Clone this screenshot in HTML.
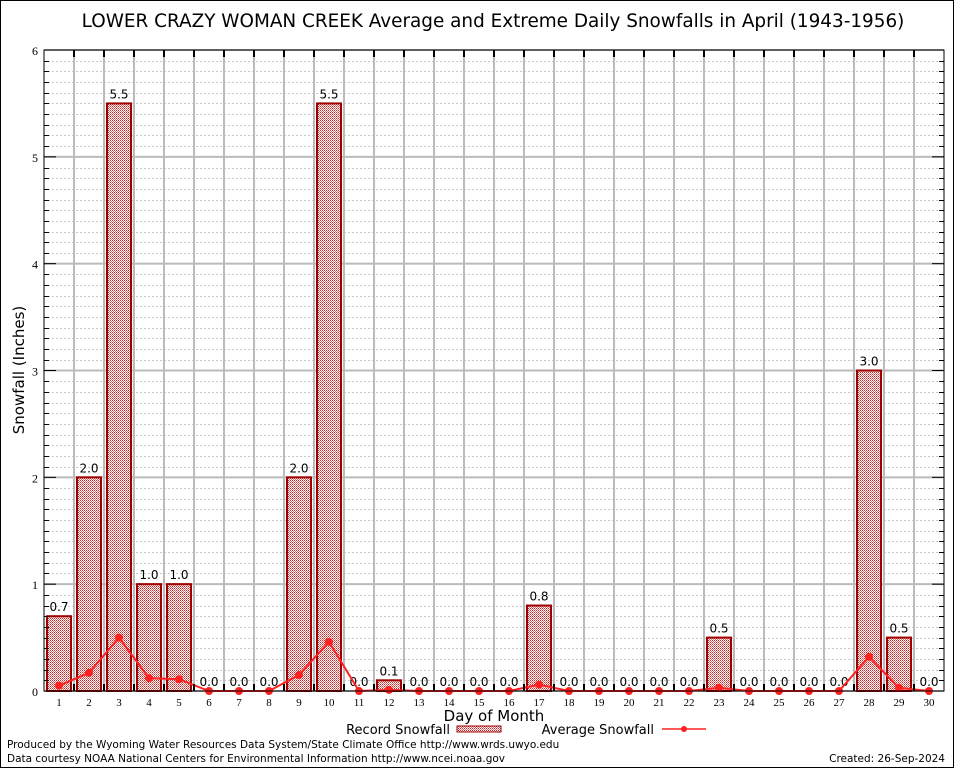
<!DOCTYPE html>
<html><head><meta charset="utf-8"><style>
body{margin:0;background:#fff;}
svg{display:block;font-family:"DejaVu Sans","Liberation Sans",sans-serif;}
</style></head><body>
<svg id="chart" width="954" height="768">
<defs>
<pattern id="chk" width="2" height="2" patternUnits="userSpaceOnUse">
<rect width="2" height="2" fill="#fff"/><rect width="1" height="1" fill="#c82828"/><rect x="1" y="1" width="1" height="1" fill="#e07070"/>
</pattern>
</defs>
<rect x="0.5" y="0.5" width="953" height="767" fill="#fff" stroke="#000"/>
<text x="493" y="27" font-size="18.4" text-anchor="middle">LOWER CRAZY WOMAN CREEK Average and Extreme Daily Snowfalls in April (1943-1956)</text>
<g id="grid"></g><g id="bars"></g><g id="avg"></g><g id="axes"></g>
<text transform="translate(24,370) rotate(-90)" font-size="15" text-anchor="middle">Snowfall (Inches)</text>
<text x="494" y="721" font-size="15" text-anchor="middle">Day of Month</text>
<g>
<text x="450" y="734" font-size="13" text-anchor="end">Record Snowfall</text>
<rect x="457" y="726" width="44" height="6" fill="url(#chk)" stroke="#a00000"/>
<text x="654" y="734" font-size="13" text-anchor="end">Average Snowfall</text>
<line x1="662" y1="729" x2="706" y2="729" stroke="#ff2020" stroke-width="1.5"/>
<circle cx="684" cy="729" r="3" fill="#ff2020"/>
</g>
<text x="7" y="748" font-size="10.5">Produced by the Wyoming Water Resources Data System/State Climate Office http://www.wrds.uwyo.edu</text>
<text x="7" y="762" font-size="10.5">Data courtesy NOAA National Centers for Environmental Information http://www.ncei.noaa.gov</text>
<text x="945" y="762" font-size="10.5" text-anchor="end">Created:  26-Sep-2024</text>
</svg>
<script>
const days=[1,2,3,4,5,6,7,8,9,10,11,12,13,14,15,16,17,18,19,20,21,22,23,24,25,26,27,28,29,30];
const recordSnow=[0.7,2.0,5.5,1.0,1.0,0,0,0,2.0,5.5,0,0.1,0,0,0,0,0.8,0,0,0,0,0,0.5,0,0,0,0,3.0,0.5,0];
const avgSnow=[0.05,0.17,0.5,0.12,0.11,0,0,0,0.15,0.46,0,0.01,0,0,0,0,0.06,0,0,0,0,0,0.03,0,0,0,0,0.32,0.03,0];
const yTicks=[0,1,2,3,4,5,6];
const L=44,R=944,T=50,B=691,yMax=6;
const ns="http://www.w3.org/2000/svg";
const xs=d=>L+(d-0.5)*(R-L)/days.length;
const ys=v=>B-v/yMax*(B-T);
function mk(p,tag,a){const e=document.createElementNS(ns,tag);for(const k in a)e.setAttribute(k,a[k]);p.appendChild(e);return e;}
const grid=document.getElementById('grid'),bars=document.getElementById('bars'),avg=document.getElementById('avg'),axes=document.getElementById('axes');
const bw=(R-L)/days.length;
for(let i=1;i<60;i++){const v=i*0.1;if(i%10===0)continue;
 const l=mk(grid,'line',{x1:L,x2:R,y1:Math.round(ys(v))+0.5,y2:Math.round(ys(v))+0.5,stroke:'#c8c8c8','stroke-dasharray':'2,2','stroke-width':1});
 
 
 for(const x of [L,R]){mk(axes,'line',{x1:x,x2:x+(x===L?5:-5),y1:Math.round(ys(v))+0.5,y2:Math.round(ys(v))+0.5,stroke:'#000'});}
}
yTicks.forEach(v=>{
 const l=mk(grid,'line',{x1:L,x2:R,y1:ys(v),y2:ys(v),stroke:'#bbb','stroke-width':2});
 
 
 mk(axes,'line',{x1:L,x2:L+12,y1:ys(v),y2:ys(v),stroke:'#000'});
 mk(axes,'line',{x1:R,x2:R-12,y1:ys(v),y2:ys(v),stroke:'#000'});
 const t=mk(axes,'text',{x:L-6,y:ys(v)+5,'font-size':12,'text-anchor':'end','font-family':'Liberation Serif,serif'});
 t.textContent=v;
 
 
});
for(let i=1;i<days.length;i++){const x=L+i*bw;
 const l=mk(grid,'line',{x1:x,x2:x,y1:T,y2:B,stroke:'#bbb','stroke-width':2});
 
 
 mk(axes,'line',{x1:x,x2:x,y1:T,y2:T+7,stroke:'#000','stroke-width':2});
 mk(axes,'line',{x1:x,x2:x,y1:B,y2:B-7,stroke:'#000','stroke-width':2});
}
days.forEach((d,i)=>{
 const v=recordSnow[i],x=xs(d);
 if(v>0){const r=mk(bars,'rect',{x:x-12,y:ys(v),width:24,height:B-ys(v),fill:'url(#chk)',stroke:'#a00000','stroke-width':2});
  
  }
 const t=mk(bars,'text',{x:x,y:ys(v)-5,'font-size':12,'text-anchor':'middle'});
 t.textContent=v.toFixed(1);
 
 
 const xl=mk(axes,'text',{x:x,y:B+15,'font-size':11,'text-anchor':'middle','font-family':'Liberation Serif,serif'});
 xl.textContent=d;
 
 
});
const pl=mk(avg,'polyline',{points:days.map((d,i)=>xs(d)+','+ys(avgSnow[i])).join(' '),fill:'none',stroke:'#ff2020','stroke-width':2});


days.forEach((d,i)=>{const c=mk(avg,'circle',{cx:xs(d),cy:ys(avgSnow[i]),r:4,fill:'#ff2020'});
 
 });
const fr=mk(axes,'rect',{x:L,y:T,width:R-L,height:B-T,fill:'none',stroke:'#000','stroke-width':1});


</script>
</body></html>
